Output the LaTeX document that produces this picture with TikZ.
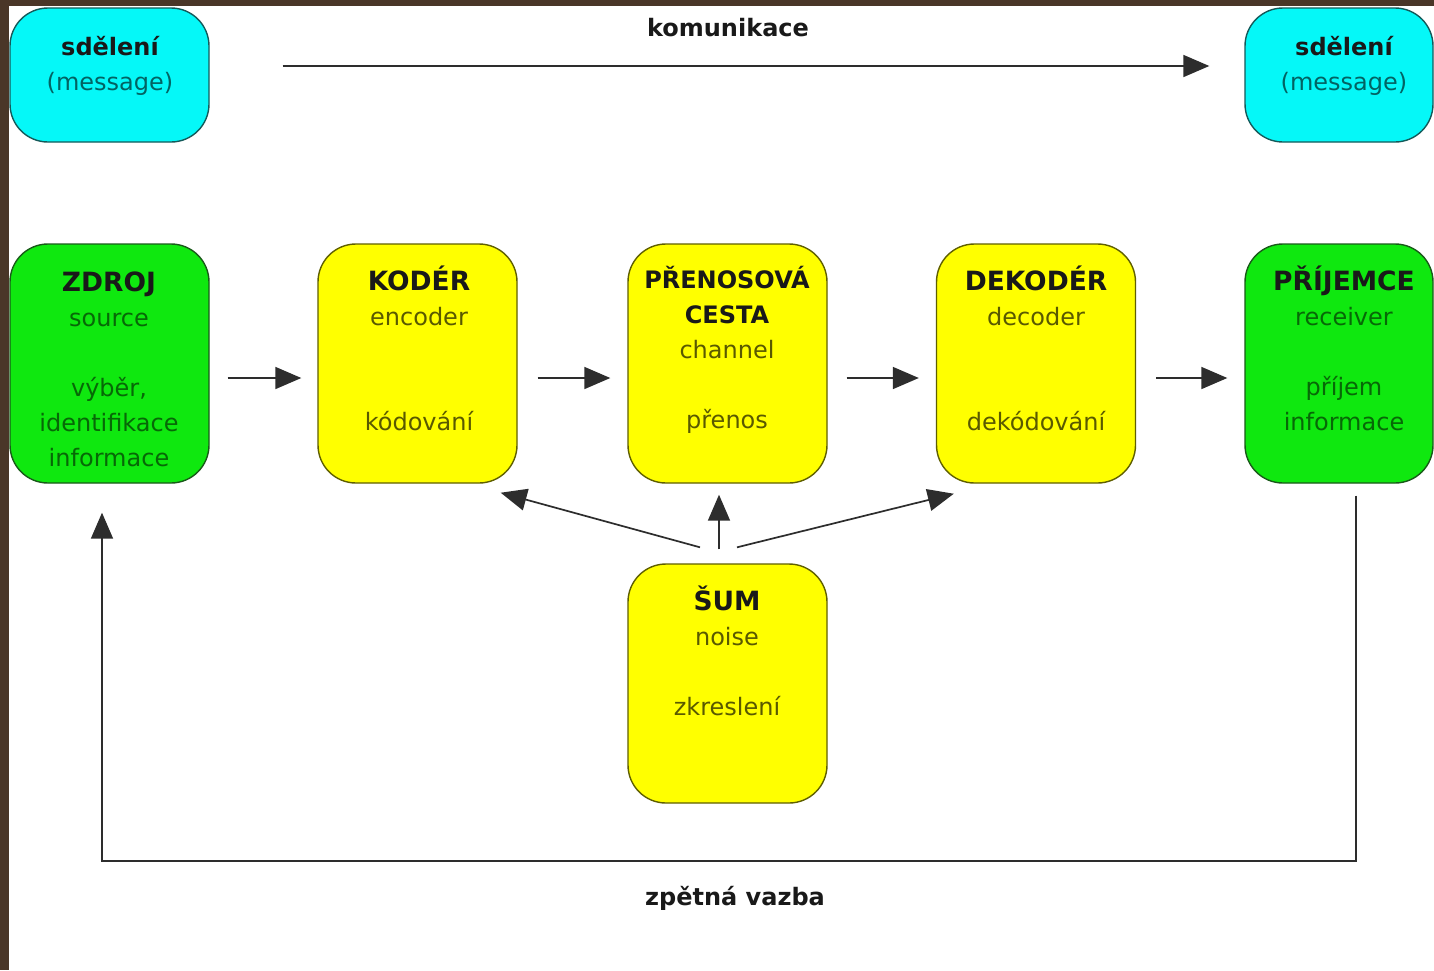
\documentclass[tikz,border=0pt]{standalone}
\usepackage{fontspec}
\setmainfont{DejaVu Sans}
\usetikzlibrary{arrows.meta,calc}
\definecolor{bgbrown}{RGB}{74,54,40}
\definecolor{cyanfill}{RGB}{5,248,248}
\definecolor{cyanline}{RGB}{20,90,90}
\definecolor{greenfill}{RGB}{15,232,15}
\definecolor{greenline}{RGB}{25,90,25}
\definecolor{yellowfill}{RGB}{255,255,0}
\definecolor{yellowline}{RGB}{95,95,0}
\definecolor{titletext}{RGB}{25,25,25}
\definecolor{linecol}{RGB}{45,45,45}
\tikzset{
  boxbase/.style={draw, rectangle, rounded corners=38pt, line width=1.4pt, inner sep=0pt},
  cyanbox/.style={boxbase, fill=cyanfill, draw=cyanline, minimum height=134pt},
  greenbox/.style={boxbase, fill=greenfill, draw=greenline, minimum width=199pt, minimum height=239pt},
  yellowbox/.style={boxbase, fill=yellowfill, draw=yellowline, minimum width=199pt, minimum height=239pt},
  boxtext/.style={anchor=base, align=center, inner sep=0pt, font=\fontsize{24}{35}\selectfont},
  cyantext/.style={boxtext, text=black!60!cyanfill},
  greentext/.style={boxtext, text=black!55!greenfill},
  yellowtext/.style={boxtext, text=black!65!yellowfill},
  caption/.style={font=\fontsize{24}{30}\selectfont\bfseries, text=titletext, inner sep=0pt},
  arr/.style={draw=linecol, line width=1.7pt, -{Triangle[length=26pt,width=22pt]}},
  fbline/.style={draw=linecol, line width=2pt}
}
\newcommand{\ttl}[1]{{\bfseries\color{titletext}#1}}
\newcommand{\bttl}[1]{{\fontsize{26.5}{35}\selectfont\bfseries\color{titletext}#1}}
\begin{document}
\begin{tikzpicture}[x=1pt,y=-1pt]
\useasboundingbox (0,0) rectangle (1434,970);
\fill[bgbrown] (0,0) rectangle (1434,970);
\fill[white] (9,6) rectangle (1434,970);

% boxes
\node[cyanbox, minimum width=199pt] (msgL) at (109.5,75) {};
\node[cyanbox, minimum width=188pt] (msgR) at (1339,75) {};
\node[greenbox] (zdroj) at (109.5,363.5) {};
\node[yellowbox] (koder) at (417.5,363.5) {};
\node[yellowbox] (kanal) at (727.5,363.5) {};
\node[yellowbox] (dekoder) at (1036,363.5) {};
\node[greenbox, minimum width=188pt] (prijemce) at (1339,363.5) {};
\node[yellowbox] (sum) at (727.5,683.5) {};

% texts (anchor = baseline of the last line)
\node[cyantext] (tmsgL) at (110,90) {\ttl{sdělení}\\(message)};
\node[cyantext] (tmsgR) at (1344,90) {\ttl{sdělení}\\(message)};
\node[greentext] (tzdroj) at (109,466) {\bttl{ZDROJ}\\source\\[35pt]výběr,\\identifikace\\informace};
\node[yellowtext] (tkoder) at (419,430) {\bttl{KODÉR}\\encoder\\[70pt]kódování};
\node[yellowtext] (tkanal) at (727,428) {\ttl{PŘENOSOVÁ}\\\ttl{CESTA}\\channel\\[35pt]přenos};
\node[yellowtext] (tdekoder) at (1036,430) {\bttl{DEKODÉR}\\decoder\\[70pt]dekódování};
\node[greentext] (tprijemce) at (1344,430) {\bttl{PŘÍJEMCE}\\receiver\\[35pt]příjem\\informace};
\node[yellowtext] (tsum) at (727,715) {\bttl{ŠUM}\\noise\\[35pt]zkreslení};

\node[caption] (komunikace) at (728,28) {komunikace};
\node[caption] (vazba) at (735,898) {zpětná vazba};

% communication arrow
\draw[arr, shorten <=73pt, shorten >=35pt] ([yshift=9pt]msgL.east) -- ([yshift=9pt]msgR.west);

% chain arrows
\draw[arr, shorten <=18pt, shorten >=16pt] ([yshift=-14.5pt]zdroj.east) -- ([yshift=-14.5pt]koder.west);
\draw[arr, shorten <=20pt, shorten >=17pt] ([yshift=-14.5pt]koder.east) -- ([yshift=-14.5pt]kanal.west);
\draw[arr, shorten <=19pt, shorten >=17pt] ([yshift=-14.5pt]kanal.east) -- ([yshift=-14.5pt]dekoder.west);
\draw[arr, shorten <=20pt, shorten >=17pt] ([yshift=-14.5pt]dekoder.east) -- ([yshift=-14.5pt]prijemce.west);

% noise arrows
\draw[arr] ([shift={(-27.5,-16)}]sum.north) -- ([shift={(-17,9)}]koder.south east);
\draw[arr] ([shift={(-8.5,-14)}]sum.north) -- ([shift={(-8.5,11)}]kanal.south);
\draw[arr] ([shift={(9.5,-16)}]sum.north) -- ([shift={(18,10)}]dekoder.south west);

% feedback
\coordinate (fbR) at ([shift={(17,12)}]prijemce.south);
\coordinate (fbL) at ([shift={(-7.5,29)}]zdroj.south);
\draw[fbline] (fbR) -- ++(0,365) -| ([yshift=-2pt]fbL);
\draw[arr] ([yshift=-20pt]fbL) -- (fbL);
\end{tikzpicture}
\end{document}
